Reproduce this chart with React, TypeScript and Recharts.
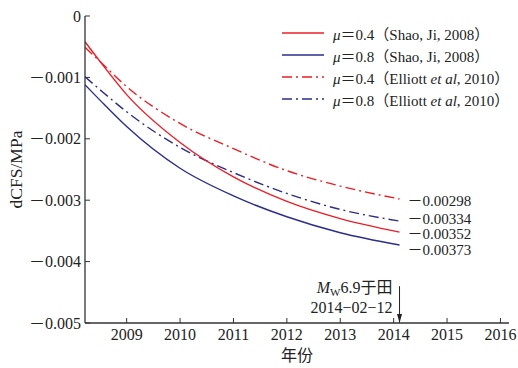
import React from 'react';
import { LineChart, Line, XAxis, YAxis, ReferenceLine } from 'recharts';

// time axis (decimal years) and dCFS values (MPa)
const years = [2008.22, 2008.5, 2009, 2010, 2011, 2012, 2013, 2014.11];
const shao04 = [-0.00042, -0.00074, -0.00128, -0.00206, -0.00262, -0.00302, -0.0033, -0.00352];
const shao08 = [-0.00112, -0.00137, -0.0018, -0.00248, -0.00293, -0.00327, -0.00353, -0.00373];
const elliott04 = [-0.00051, -0.00074, -0.00115, -0.00175, -0.00216, -0.00252, -0.00277, -0.00298];
const elliott08 = [-0.00099, -0.0012, -0.00156, -0.00214, -0.00255, -0.00289, -0.00315, -0.00334];

const xTicks = [2009, 2010, 2011, 2012, 2013, 2014, 2015, 2016];
const yTicks = [0, -0.001, -0.002, -0.003, -0.004, -0.005];

const quakeYear = 2014.11;
const quakeDate = '2014−02−12';

const RED = '#ee1d25';
const BLUE = '#2b2e8c';
const AXIS = '#333';
const FONT = '"Liberation Serif", "Noto Sans CJK SC", serif';

const rows = years.map((year, i) => ({
  year,
  s04: shao04[i],
  s08: shao08[i],
  e04: elliott04[i],
  e08: elliott08[i],
}));

const series = [
  { key: 'e04', color: RED, dash: '10 4 2 4', dy: 2, mu: '0.4', src: 'elliott' },
  { key: 'e08', color: BLUE, dash: '10 4 2 4', dy: -2, mu: '0.8', src: 'elliott' },
  { key: 's04', color: RED, dash: undefined, dy: 2, mu: '0.4', src: 'shao' },
  { key: 's08', color: BLUE, dash: undefined, dy: 5, mu: '0.8', src: 'shao' },
];

const legendOrder = ['s04', 's08', 'e04', 'e08'];

const fmtMinus = (v: number, digits: number) => (v === 0 ? '0' : v.toFixed(digits).replace('-', '－'));

const endLabel = (dy: number) => (props: any) => {
  const { x, y, index, value } = props;
  if (index !== years.length - 1) return null;
  return (
    <text x={x + 8} y={y + dy} dy="0.35em" fontSize={15} fontFamily={FONT} fill="#222">
      {fmtMinus(value, 5)}
    </text>
  );
};

const QuakeMark = (props: any) => {
  const vb = props.viewBox || {};
  const x = vb.x;
  const top = vb.y;
  const bottom = vb.y + vb.height;
  return (
    <g fontFamily={FONT} fill="#222">
      <polygon points={`${x - 2.5},${bottom - 9} ${x + 2.5},${bottom - 9} ${x},${bottom}`} fill="#222" />
      <text x={x - 7} y={top + 7} textAnchor="end" fontSize={16}>
        <tspan fontStyle="italic">M</tspan>
        <tspan fontSize={11} dy={3}>W</tspan>
        <tspan dy={-3}>6.9于田</tspan>
      </text>
      <text x={x - 7} y={top + 27} textAnchor="end" fontSize={16}>
        {quakeDate}
      </text>
    </g>
  );
};

const YLabel = (props: any) => {
  const vb = props.viewBox || {};
  const cy = vb.y + vb.height / 2;
  return (
    <text x={16} y={cy} transform={`rotate(-90, 16, ${cy})`} textAnchor="middle" dy="0.35em"
      fontSize={17.5} fontFamily={FONT} fill="#222">
      dCFS/MPa
    </text>
  );
};

const Legend = () => (
  <div style={{ position: 'absolute', left: 280, top: 22, fontFamily: FONT, fontSize: 15, color: '#222' }}>
    {legendOrder.map((k) => {
      const s = series.find((d) => d.key === k)!;
      return (
        <div key={k} style={{ display: 'flex', alignItems: 'center', height: 22, whiteSpace: 'nowrap' }}>
          <svg width={46} height={10} style={{ marginRight: 7 }}>
            <line x1={2} y1={5} x2={44} y2={5} stroke={s.color} strokeWidth={1.4} strokeDasharray={s.dash} />
          </svg>
          <span>
            <i>μ</i>＝{s.mu}（
            {s.src === 'shao' ? (
              'Shao, Ji, 2008'
            ) : (
              <>
                Elliott <i>et al</i>, 2010
              </>
            )}
            ）
          </span>
        </div>
      );
    })}
  </div>
);

export default function App() {
  const tickStyle = { fill: '#222', fontSize: 16, fontFamily: FONT };
  return (
    <div style={{ position: 'absolute', left: 0, top: 0, width: 518, height: 368, background: '#fff' }}>
      <LineChart width={518} height={368} data={rows} margin={{ top: 16, right: 9, bottom: 25, left: 0 }}>
        <XAxis
          dataKey="year"
          type="number"
          domain={[2008.22, 2016.16]}
          ticks={xTicks}
          allowDataOverflow
          height={20}
          tickSize={-5}
          tickMargin={11}
          axisLine={{ stroke: AXIS, strokeWidth: 1.3 }}
          tickLine={{ stroke: AXIS }}
          tick={tickStyle}
          label={{ value: '年份', position: 'bottom', offset: 7, fill: '#222', fontSize: 16, fontFamily: FONT }}
        />
        <XAxis
          xAxisId="top"
          orientation="top"
          dataKey="year"
          type="number"
          domain={[2008.22, 2016.16]}
          height={0}
          tick={false}
          tickLine={false}
          axisLine={{ stroke: AXIS, strokeWidth: 1.3 }}
        />
        <YAxis
          domain={[-0.005, 0]}
          ticks={yTicks}
          width={85}
          tickSize={-5}
          tickMargin={9}
          tickFormatter={(v: number) => fmtMinus(v, 3)}
          axisLine={{ stroke: AXIS, strokeWidth: 1.3 }}
          tickLine={{ stroke: AXIS }}
          tick={tickStyle}
          label={{ content: <YLabel /> }}
        />
        <YAxis
          yAxisId="right"
          orientation="right"
          domain={[-0.005, 0]}
          width={0}
          tick={false}
          tickLine={false}
          axisLine={{ stroke: AXIS, strokeWidth: 1.3 }}
        />
        {series.map((s) => (
          <Line
            key={s.key}
            type="monotone"
            dataKey={s.key}
            stroke={s.color}
            strokeWidth={1.4}
            strokeDasharray={s.dash}
            dot={false}
            isAnimationActive={false}
            label={endLabel(s.dy)}
          />
        ))}
        <ReferenceLine
          segment={[
            { x: quakeYear, y: -0.0044 },
            { x: quakeYear, y: -0.005 },
          ]}
          stroke="#222"
          strokeWidth={1}
          label={(p: any) => <QuakeMark {...p} />}
        />
      </LineChart>
      <Legend />
    </div>
  );
}
